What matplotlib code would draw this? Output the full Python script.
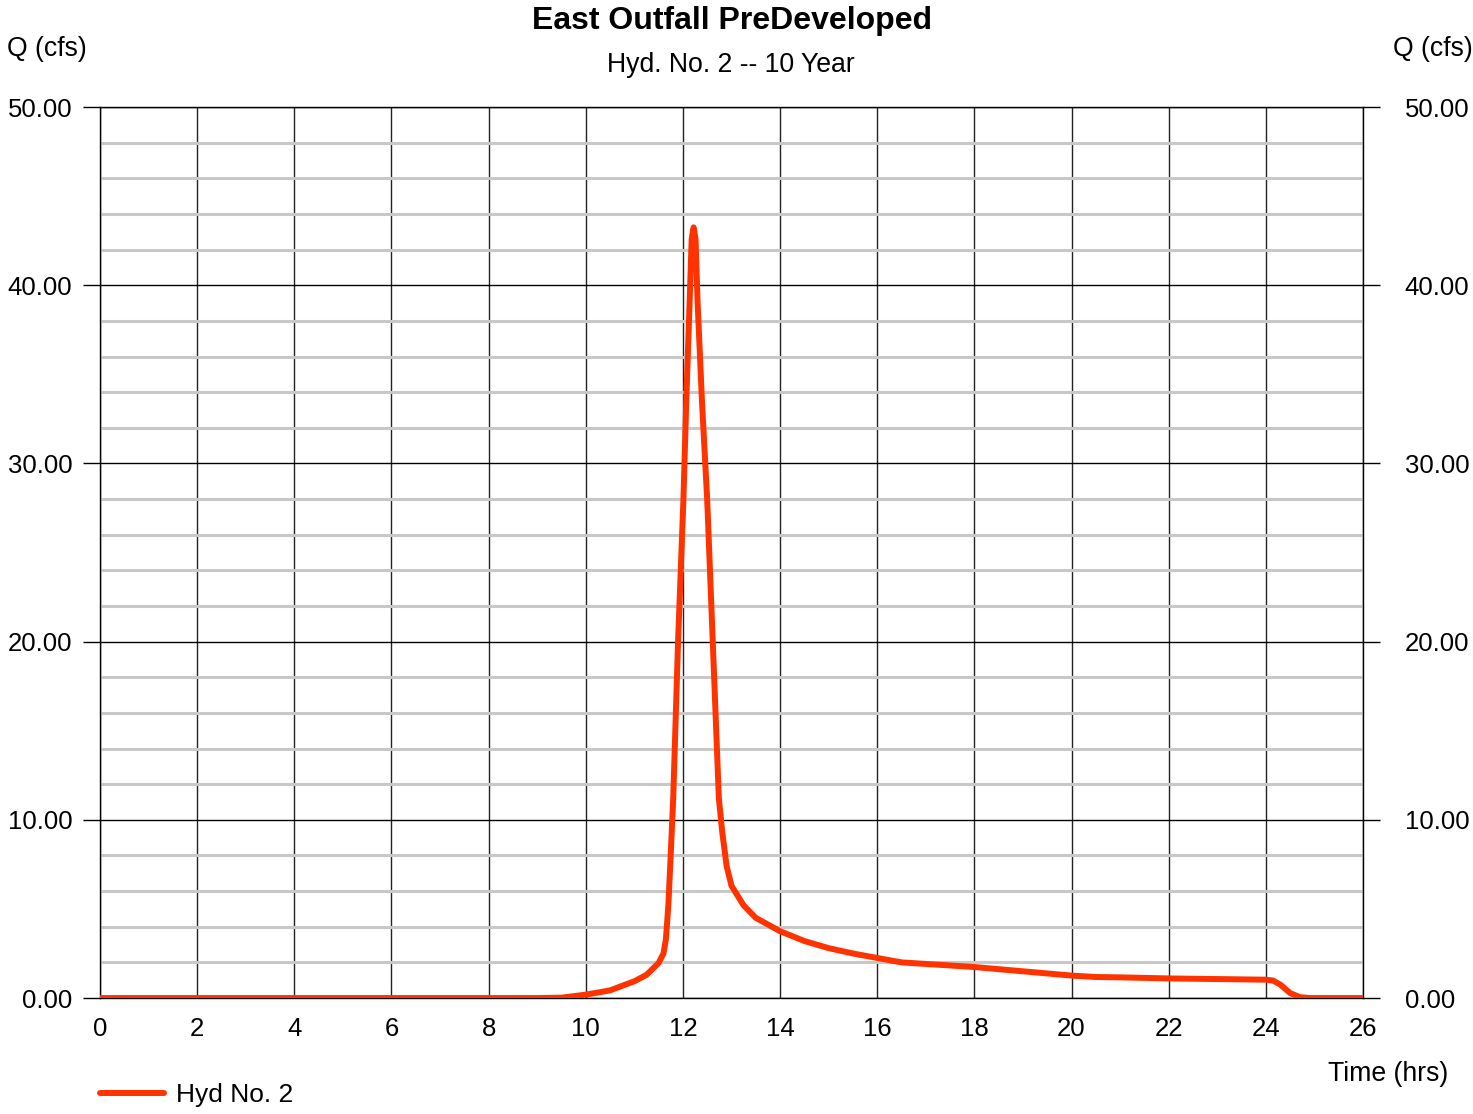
import matplotlib.pyplot as plt
from matplotlib.ticker import MultipleLocator, FormatStrFormatter

plt.rcParams['font.family'] = ['Liberation Sans', 'DejaVu Sans']

# Hydrograph (hours, cfs)
time_hrs = [0, 2, 4, 6, 8, 9.0, 9.5, 10.0, 10.5, 11.0, 11.25, 11.5, 11.6, 11.65,
            11.7, 11.75, 11.8, 11.9, 12.01, 12.07, 12.14, 12.18, 12.22, 12.26,
            12.3, 12.39, 12.5, 12.6, 12.74, 12.81, 12.9, 13.0, 13.25, 13.5,
            14.0, 14.5, 15.0, 15.5, 16.0, 16.5, 18.0, 20.0, 20.5, 21.0, 22.0,
            24.0, 24.15, 24.3, 24.5, 24.7, 24.9, 26.0]
flow_cfs = [0, 0, 0, 0, 0, 0, 0.02, 0.19, 0.43, 0.94, 1.3, 1.97, 2.5, 3.3,
            5.2, 8.1, 11.2, 20.0, 27.95, 33.6, 39.2, 42.6, 43.25, 42.6,
            39.2, 33.6, 27.95, 21.0, 11.2, 9.3, 7.4, 6.3, 5.2, 4.5,
            3.75, 3.2, 2.8, 2.5, 2.25, 2.0, 1.74, 1.26, 1.18, 1.16, 1.1,
            1.03, 0.98, 0.75, 0.28, 0.05, 0, 0]

fig = plt.figure(figsize=(14.73, 11.14), dpi=100)
ax = fig.add_axes([0.0679, 0.1041, 0.8574, 0.7998])

ax.set_xlim(0, 26)
ax.set_ylim(0, 50)
ax.xaxis.set_major_locator(MultipleLocator(2))
ax.yaxis.set_major_locator(MultipleLocator(10))
ax.yaxis.set_minor_locator(MultipleLocator(2))
ax.yaxis.set_major_formatter(FormatStrFormatter('%.2f'))

ax.grid(which='minor', axis='y', color='#c8c8c8', linewidth=2.2)
ax.grid(which='major', axis='y', color='black', linewidth=1.0)
ax.grid(which='major', axis='x', color='#222222', linewidth=1.0)
ax.set_axisbelow(True)

ax.plot(time_hrs, flow_cfs, color='#ff3300', linewidth=4.3,
        solid_capstyle='round', solid_joinstyle='round', label='Hyd No. 2', zorder=3)

ax.tick_params(axis='y', which='major', length=12, width=1, labelsize=18.5, pad=8)
ax.tick_params(axis='y', which='minor', length=0)
ax.tick_params(axis='x', length=0, labelsize=18.5, pad=14)
for s in ax.spines.values():
    s.set_linewidth(1.0)

ax2 = ax.twinx()
ax2.set_ylim(0, 50)
ax2.yaxis.set_major_locator(MultipleLocator(10))
ax2.yaxis.set_major_formatter(FormatStrFormatter('%.2f'))
ax2.tick_params(axis='y', length=12, width=1, labelsize=18.5, pad=18)
for s in ax2.spines.values():
    s.set_visible(False)

fig.text(0.497, 0.981, 'East Outfall PreDeveloped', ha='center', va='center',
         fontsize=23, fontweight='bold')
fig.text(0.496, 0.942, 'Hyd. No. 2 -- 10 Year', ha='center', va='center', fontsize=19.2)
fig.text(0.005, 0.956, 'Q (cfs)', ha='left', va='center', fontsize=19.2)
fig.text(1.0, 0.956, 'Q (cfs)', ha='right', va='center', fontsize=19.2)
fig.text(0.983, 0.036, 'Time (hrs)', ha='right', va='center', fontsize=19.2)

fig.legend(loc='lower left', bbox_to_anchor=(0.052, -0.015), frameon=False,
           fontsize=19, handlelength=2.4, handletextpad=0.45)

fig.savefig('out.png', dpi=100)
